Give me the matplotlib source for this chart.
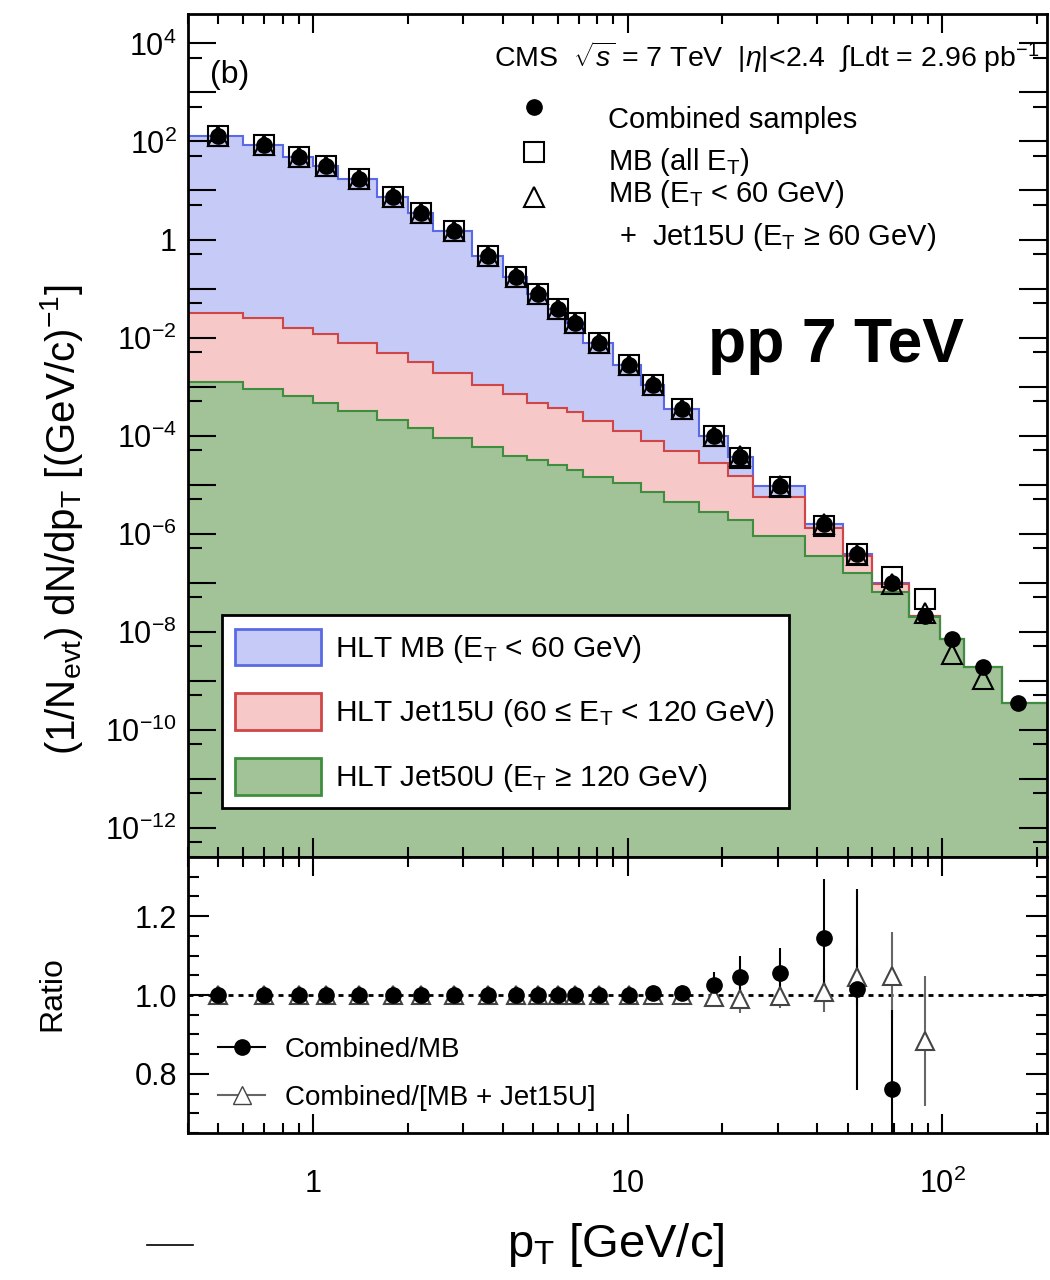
import numpy as np
import matplotlib.pyplot as plt
import matplotlib as mpl
from matplotlib.lines import Line2D
from matplotlib.patches import Patch
from matplotlib.ticker import LogLocator, MultipleLocator, FuncFormatter, NullFormatter, FormatStrFormatter

mpl.rcParams.update({
    'font.family': ['Liberation Sans', 'DejaVu Sans'],
    'mathtext.fontset': 'custom',
    'mathtext.rm': 'Liberation Sans',
    'mathtext.it': 'Liberation Sans:italic',
    'mathtext.bf': 'Liberation Sans:bold',
    'mathtext.sf': 'Liberation Sans',
})

# bordes de los bins del histograma [GeV/c]
pt_edges = [0.4, 0.6, 0.8, 1.0, 1.2, 1.6, 2.0, 2.4, 3.2, 4.0, 4.8, 5.6, 6.4, 7.2,
            9.0, 11.0, 13.0, 16.8, 20.8, 25.0, 36.6, 48.4, 60.0, 78.4, 98.0,
            117.0, 155.0, 240.0]
# centro de cada bin (posicion de los puntos)
pt = [0.5, 0.7, 0.9, 1.1, 1.4, 1.8, 2.2, 2.8, 3.6, 4.4, 5.2, 6.0, 6.8, 8.1,
      10.1, 12.0, 14.9, 18.8, 22.8, 30.6, 42.1, 53.5, 69.1, 88.0, 107.0,
      135.0, 174.0]

# muestras combinadas = tope del apilado
combined = [132, 83, 49, 31, 17.4, 7.2, 3.5, 1.5, 0.47, 0.17, 0.079, 0.039,
            0.020, 7.9e-3, 2.7e-3, 1.05e-3, 3.5e-4, 1.0e-4, 3.7e-5, 9.5e-6,
            1.6e-6, 3.9e-7, 1.0e-7, 2.1e-8, 7.0e-9, 1.9e-9, 3.5e-10]
# tope de Jet15U (Jet50U + Jet15U)
jet15u_top = [3.2e-2, 2.5e-2, 1.6e-2, 1.2e-2, 7.9e-3, 4.9e-3, 3.1e-3, 1.9e-3,
              1.05e-3, 7.1e-4, 4.7e-4, 3.7e-4, 3.0e-4, 2.0e-4, 1.26e-4, 7.9e-5,
              4.9e-5, 2.7e-5, 1.5e-5, 5.6e-6, 1.3e-6, 3.4e-7, 9.5e-8, 2.1e-8,
              7.0e-9, 1.9e-9, 3.5e-10]
# Jet50U
jet50u_top = [1.26e-3, 9.1e-4, 6.3e-4, 4.7e-4, 3.2e-4, 2.1e-4, 1.4e-4, 9.1e-5,
              5.8e-5, 3.9e-5, 3.1e-5, 2.5e-5, 1.95e-5, 1.4e-5, 1.05e-5, 6.9e-6,
              4.5e-6, 2.7e-6, 1.9e-6, 9.1e-7, 3.5e-7, 1.6e-7, 6.3e-8, 1.95e-8,
              7.0e-9, 1.9e-9, 3.5e-10]

# MB (todos E_T), cuadrados
mb_all = [132, 83, 49, 31, 17.4, 7.2, 3.5, 1.5, 0.47, 0.17, 0.079, 0.039,
          0.020, 7.9e-3, 2.7e-3, 1.05e-3, 3.5e-4, 9.8e-5, 3.5e-5, 9.0e-6,
          1.4e-6, 3.85e-7, 1.3e-7, 4.7e-8]
# MB (E_T<60) + Jet15U (E_T>=60), triangulos
mb_jet15u = [132, 83, 49, 31, 17.4, 7.2, 3.5, 1.5, 0.47, 0.17, 0.079, 0.039,
             0.020, 7.9e-3, 2.7e-3, 1.05e-3, 3.5e-4, 1.0e-4, 3.74e-5, 9.5e-6,
             1.59e-6, 3.7e-7, 9.5e-8, 2.4e-8, 3.5e-9, 1.1e-9]

# panel de cocientes
ratio_mb = [1.0] * 15 + [1.004, 1.004, 1.025, 1.045, 1.056, 1.144, 1.015, 0.762]
ratio_mb_err = [0.004] * 15 + [0.005, 0.006, 0.033, 0.054, 0.063, 0.15, 0.255, 0.20]
ratio_tri = [1.0] * 17 + [0.995, 0.99, 0.997, 1.008, 1.046, 1.049, 0.884]
ratio_tri_err = [0.004] * 17 + [0.02, 0.035, 0.03, 0.05, 0.075, 0.11, 0.165]

c_blue, l_blue = '#C6CAF7', '#5A6AE6'
c_red, l_red = '#F6C8C8', '#D04545'
c_green, l_green = '#A1C397', '#3E8E3E'

fig = plt.figure(figsize=(10.5, 12.8), dpi=100)
ax = fig.add_axes([0.179, 0.3305, 0.818, 0.6585])
rax = fig.add_axes([0.179, 0.1148, 0.818, 0.2157], sharex=ax)

# histogramas apilados
ext = lambda v: list(v) + [v[-1]]
floor = [1e-16] * len(jet50u_top)
ax.fill_between(pt_edges, ext(floor), ext(jet50u_top), step='post', color=c_green, lw=0)
ax.fill_between(pt_edges, ext(jet50u_top), ext(jet15u_top), step='post', color=c_red, lw=0)
ax.fill_between(pt_edges, ext(jet15u_top), ext(combined), step='post', color=c_blue, lw=0)
ax.stairs(combined, pt_edges, baseline=None, color=l_blue, lw=1.5)
ax.stairs(jet15u_top, pt_edges, baseline=None, color=l_red, lw=1.5)
ax.stairs(jet50u_top, pt_edges, baseline=None, color=l_green, lw=1.5)

ax.plot(pt[:len(mb_all)], mb_all, 's', ms=15, mfc='none', mec='black', mew=1.5)
ax.plot(pt[:len(mb_jet15u)], mb_jet15u, '^', ms=14, mfc='none', mec='black', mew=1.5)
ax.plot(pt, combined, 'o', ms=11, color='black')

ax.set_xscale('log')
ax.set_yscale('log')
ax.set_xlim(0.4, 215)
ax.set_ylim(10 ** -12.6, 10 ** 4.6)


def ylab(v, pos):
    k = int(round(np.log10(v)))
    if k % 2:
        return ''
    if k == 0:
        return '1'
    return r'$10^{%d}$' % k


def xlab(v, pos):
    k = int(round(np.log10(v)))
    return {0: '1', 1: '10'}.get(k, r'$10^{%d}$' % k)


ax.yaxis.set_major_locator(LogLocator(base=10, numticks=40))
ax.yaxis.set_minor_locator(LogLocator(base=10, subs=(5.0,), numticks=40))
ax.yaxis.set_major_formatter(FuncFormatter(ylab))
ax.yaxis.set_minor_formatter(NullFormatter())
ax.xaxis.set_major_locator(LogLocator(base=10, numticks=10))
ax.xaxis.set_minor_locator(LogLocator(base=10, subs=np.arange(2, 10), numticks=10))
ax.xaxis.set_major_formatter(FuncFormatter(xlab))
ax.xaxis.set_minor_formatter(NullFormatter())

for a in (ax, rax):
    a.tick_params(which='both', direction='in', top=True, right=True, width=1.5,
                  labelsize=22)
    a.tick_params(axis='x', which='major', length=14, pad=26)
    a.tick_params(axis='x', which='minor', length=7)
    for s in a.spines.values():
        s.set_linewidth(2)
ax.tick_params(axis='y', which='major', length=20, pad=8)
ax.tick_params(axis='y', which='minor', length=10)
ax.tick_params(labelbottom=False)

# leyenda superior
ax.text(0.992, 0.937, r'CMS  $\sqrt{s}$ = 7 TeV  $|\eta|$<2.4  $\int$Ldt = 2.96 pb$^{-1}$',
        transform=ax.transAxes, ha='right', va='baseline', fontsize=20.5)
ax.text(0.0256, 0.928, '(b)', transform=ax.transAxes, ha='left', va='center', fontsize=23)
ax.plot([0.4028], [0.8897], 'o', ms=11, color='black', transform=ax.transAxes)
ax.plot([0.4028], [0.8363], 's', ms=15, mfc='none', mec='black', mew=1.5, transform=ax.transAxes)
ax.plot([0.4028], [0.7829], '^', ms=14, mfc='none', mec='black', mew=1.5, transform=ax.transAxes)
ax.text(0.4889, 0.8648, 'Combined samples', transform=ax.transAxes, va='baseline', fontsize=21)
ax.text(0.4889, 0.8149, r'MB (all E$_{\rm T}$)', transform=ax.transAxes, va='baseline', fontsize=21)
ax.text(0.4889, 0.7770, r'MB (E$_{\rm T}$ < 60 GeV)', transform=ax.transAxes, va='baseline', fontsize=21)
ax.text(0.5017, 0.7260, r'+  Jet15U (E$_{\rm T}$ ≥ 60 GeV)', transform=ax.transAxes,
        va='baseline', fontsize=21)
ax.text(0.605, 0.587, 'pp 7 TeV', transform=ax.transAxes, ha='left', va='baseline',
        fontsize=45, fontweight='bold')

handles = [Patch(facecolor=c_blue, edgecolor=l_blue, lw=2),
           Patch(facecolor=c_red, edgecolor=l_red, lw=2),
           Patch(facecolor=c_green, edgecolor=l_green, lw=2)]
labels = [r'HLT MB (E$_{\rm T}$ < 60 GeV)',
          r'HLT Jet15U (60 ≤ E$_{\rm T}$ < 120 GeV)',
          r'HLT Jet50U (E$_{\rm T}$ ≥ 120 GeV)']
leg = ax.legend(handles, labels, loc='lower left', bbox_to_anchor=(0.0396, 0.058),
                borderaxespad=0, fontsize=21.5, handlelength=2.85, handleheight=1.5,
                handletextpad=0.5, borderpad=0.45, labelspacing=0.95,
                fancybox=False, framealpha=1, edgecolor='black')
leg.get_frame().set_linewidth(2)

ax.set_ylabel(r'(1/N$_{\rm evt}$) dN/dp$_{\rm T}$ [(GeV/c)$^{-1}$]', fontsize=29)
ax.yaxis.set_label_coords(-0.147, 0.40)
ax.yaxis.label.set_va('center')

# panel inferior
rax.axhline(1.0, color='black', lw=2, ls=(0, (1.8, 1.8)))
rax.errorbar(pt[:len(ratio_tri)], ratio_tri, yerr=ratio_tri_err, fmt='^', ms=13,
             mfc='white', mec='#444444', mew=1.5, ecolor='#666666', elinewidth=1.5)
rax.errorbar(pt[:len(ratio_mb)], ratio_mb, yerr=ratio_mb_err, fmt='o', ms=11,
             color='black', elinewidth=1.5)
rax.set_ylim(0.65, 1.35)
rax.yaxis.set_major_locator(MultipleLocator(0.2))
rax.yaxis.set_minor_locator(MultipleLocator(0.05))
rax.yaxis.set_major_formatter(FormatStrFormatter('%.1f'))
rax.tick_params(axis='y', which='major', length=15, pad=8)
rax.tick_params(axis='y', which='minor', length=8)

rhandles = [Line2D([], [], color='black', marker='o', ms=11, lw=1.5),
            Line2D([], [], color='#666666', marker='^', ms=13, mfc='white', mec='#444444', lw=1.5)]
rax.legend(rhandles, ['Combined/MB', 'Combined/[MB + Jet15U]'], loc='lower left',
           bbox_to_anchor=(0.035, 0.08), borderaxespad=0, borderpad=0, frameon=False,
           fontsize=20, handlelength=1.7, handletextpad=0.7, labelspacing=0.8)

rax.set_ylabel('Ratio', fontsize=23)
rax.yaxis.set_label_coords(-0.158, 0.507)
rax.yaxis.label.set_va('center')
rax.set_xlabel(r'p$_{\rm T}$ [GeV/c]', fontsize=34)
rax.xaxis.set_label_coords(0.498, -0.406)
rax.xaxis.label.set_va('center')

fig.add_artist(Line2D([147 / 1050, 193 / 1050], [0.0273, 0.0273], color='black', lw=1.2))

fig.savefig('out.png', dpi=100)
